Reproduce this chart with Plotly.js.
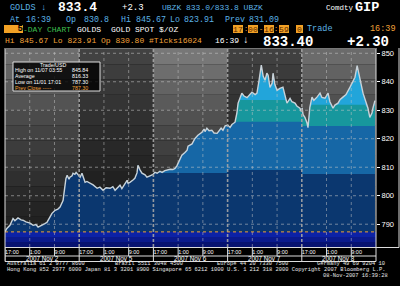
<!DOCTYPE html>
<html><head><meta charset="utf-8">
<script src="https://cdn.plot.ly/plotly-3.0.1.min.js"></script>
<style>html,body{margin:0;padding:0;background:#000;overflow:hidden}#chart{width:400px;height:286px}</style>
</head><body><div id="chart"></div>
<script>
// ---- data (hours since 11/01 17:00, trading sessions joined end to end) ----
const sessionHours = [
 0.0,0.6,1.6,2.6,3.2,4.2,5.2,5.8,6.8,8.1,9.1,10.0,10.7,12.0,12.9,13.6,14.6,15.2,16.2,17.1,17.8,18.4,18.8,19.1,19.4,19.7,20.1,20.7,21.0,21.7,22.0,22.6,23.0,23.6,
 24.3,24.9,25.5,25.9,26.5,27.5,28.5,29.8,30.7,31.7,32.7,34.0,34.9,35.6,36.5,37.2,37.8,38.8,39.5,39.8,40.4,41.4,42.0,42.7,43.0,43.7,44.3,45.3,45.9,46.9,47.5,47.9,
 48.5,49.2,50.1,50.8,51.7,52.4,53.4,54.3,55.0,55.6,56.0,56.6,57.2,58.2,58.9,59.2,59.8,60.5,60.8,61.4,62.4,63.1,63.7,64.4,64.7,65.3,66.0,66.9,67.6,68.6,69.2,69.9,70.5,71.2,71.8,
 72.1,72.8,73.4,74.4,75.0,75.4,76.0,76.6,77.3,78.3,79.2,79.9,80.9,81.5,82.1,82.9,83.5,84.1,84.7,85.1,85.7,86.4,86.7,87.3,88.0,88.9,89.9,90.6,91.2,92.2,92.8,93.8,94.4,95.4,95.9,
 96.1,96.4,97.0,97.7,98.0,98.3,98.6,99.3,99.9,100.9,101.9,102.5,103.5,104.5,105.1,106.1,106.7,107.7,108.4,109.3,110.3,111.6,112.3,113.2,113.9,114.5,114.8,115.4,115.8,116.4,117.4,118.0,118.7,119.0,119.65
];
const goldPrice = [
 787.3,788.5,789.6,792.0,791.2,792.2,791.5,791.4,790.8,790.4,789.6,789.9,789.0,789.6,790.2,790.7,792.5,793.8,794.9,795.3,796.0,797.5,798.4,801.0,804.4,806.0,807.2,805.8,806.5,807.0,807.9,807.5,808.2,807.2,
 806.5,807.9,806.0,804.7,805.0,804.4,803.8,802.6,803.0,801.9,802.8,802.6,803.2,801.9,803.0,803.7,802.5,804.4,805.4,804.4,804.7,805.5,806.1,808.0,810.7,809.0,807.9,807.3,806.5,807.0,807.2,807.5,
 808.2,807.9,808.6,808.2,808.8,809.0,809.3,809.2,809.6,810.5,811.4,813.0,814.2,815.2,816.0,817.4,817.7,818.2,818.8,820.0,821.2,821.8,822.3,823.4,822.5,823.7,822.8,823.0,822.0,821.9,822.8,823.7,823.0,824.5,824.7,
 824.7,824.0,825.0,825.8,829.0,832.5,834.6,836.0,835.0,834.4,835.5,836.3,835.5,836.0,840.0,845.84,842.0,840.5,843.0,842.3,838.0,839.5,843.0,839.0,837.0,837.7,838.1,835.0,832.5,834.2,833.0,832.5,831.5,830.7,829.5,
 830.8,828.5,827.5,825.5,823.91,826.5,831.0,834.6,833.5,834.6,836.0,834.5,834.2,836.0,833.0,830.7,831.8,832.5,833.8,834.6,835.5,838.1,839.5,841.6,845.67,842.0,840.5,838.0,836.0,834.0,830.7,827.5,829.0,830.7,833.4
];
const prevClose = 787.30;
const sessionDates = ["2007 Nov 2","2007 Nov 5","2007 Nov 6","2007 Nov 7","2007 Nov 8"];
const hourTickOffsets = [0, 8, 16];
const hourTickText = ["17:00","1:00","9:00"];
const priceTicks = [790,800,810,820,830,840,850];
// colour-band tops for each session (price levels)
const navyTop = [851, 851, 808.0, 809.0, 807.6];
const blueTop = [851, 851, 826.0, 826.0, 824.5];
const tealTop = [851, 851, 834.0, 833.6, 831.9];
const tooltipLabels = ["High on 11/07 03:55","Average","Low on 11/01 17:01","Prev Close -----"];
const tooltipValues = ["845.84","816.33","787.30","787.30"];

// ---- geometry helpers ----
const L=5,R=376,T=49,B=247;
const px = x => (x-L)/(R-L);
const py = y => (B-y)/(B-T);
const Y0=782, Y1=851.5, HOURS=120;
const MONO="Liberation Mono, DejaVu Sans Mono, monospace";
const SANS="Liberation Sans, Arial, sans-serif";
const CYAN='#5cb3e6', ORANGE='#f2a23a', GREEN='#3fbf4f', WHITE='#ffffff';

const sess = h => Math.min(4, Math.floor(h/24));
const clampTo = tops => goldPrice.map((v,i)=>Math.min(v, tops[sess(sessionHours[i])]));
const base = sessionHours.map(()=>prevClose);

const traces = [];
function band(y, color){
  traces.push({x:sessionHours,y:base,mode:'lines',line:{width:0},hoverinfo:'skip',showlegend:false});
  traces.push({x:sessionHours,y:y,mode:'lines',line:{width:0},fill:'tonexty',fillcolor:color,hoverinfo:'skip',showlegend:false});
}
band(goldPrice,'#22a5da');
band(clampTo(tealTop),'#17979d');
band(clampTo(blueTop),'#1667a6');
band(clampTo(navyTop),'#0b376f');
traces.push({x:sessionHours,y:goldPrice,mode:'lines',line:{color:'#c9d3da',width:1.4},showlegend:false});

// ---- shapes ----
const shapes = [];
const dayTop=[0x72,0x44,0x7c,0x42,0x70], dayBot=[0x20,0x1a,0x22,0x1a,0x20];
const STEPS=12;
for(let d=0; d<5; d++){
  for(let k=0;k<STEPS;k++){
    const t=(k+0.5)/STEPS;
    const s=Math.round(dayBot[d]+(dayTop[d]-dayBot[d])*Math.pow(t,1.4));
    const c=`rgb(${s},${s},${s})`;
    shapes.push({type:'rect',layer:'below',xref:'x',yref:'y',x0:d*24,x1:d*24+24,
      y0:prevClose+(Y1-prevClose)*k/STEPS, y1:prevClose+(Y1-prevClose)*(k+1)/STEPS,
      fillcolor:c,line:{width:0}});
  }
}
const blues=['#071270','#0a1a8c','#0c22a6'];
for(let k=0;k<3;k++){
  shapes.push({type:'rect',layer:'below',xref:'paper',yref:'y',x0:0,x1:1,
    y0:Y0+(prevClose-Y0)*k/3,y1:Y0+(prevClose-Y0)*(k+1)/3,fillcolor:blues[k],line:{width:0}});
}
// grid
priceTicks.forEach(v=>shapes.push({type:'line',layer:'above',xref:'paper',yref:'y',x0:0,x1:1,y0:v,y1:v,
  line:{color:'rgba(200,200,200,0.55)',width:1,dash:'dot'}}));
const xTickVals=[], xTickText=[];
for(let d=0;d<5;d++) hourTickOffsets.forEach((o,i)=>{xTickVals.push(d*24+o); xTickText.push(hourTickText[i]);});
xTickVals.forEach(h=>{
  if(h%24!==0) shapes.push({type:'line',layer:'above',xref:'x',yref:'paper',x0:h,x1:h,y0:0,y1:1,
    line:{color:'rgba(200,200,200,0.5)',width:1,dash:'dot'}});
  shapes.push({type:'line',layer:'above',xref:'x',yref:'paper',x0:h,x1:h,y0:py(248),y1:py(h%24===0?261.5:256),
    line:{color:'#dddddd',width:1}});
});
for(let d=1;d<5;d++) shapes.push({type:'line',layer:'above',xref:'x',yref:'paper',x0:d*24,x1:d*24,y0:0,y1:1,
  line:{color:'rgba(165,165,165,0.9)',width:1.6,dash:'3px,2px'}});
shapes.push({type:'line',layer:'above',xref:'paper',yref:'y',x0:0,x1:1,y0:prevClose,y1:prevClose,
  line:{color:ORANGE,width:1,dash:'dot'}});
const fr=(x0,y0,x1,y1,c)=>shapes.push({type:'line',layer:'above',xref:'paper',yref:'paper',
  x0:px(x0),x1:px(x1),y0:py(y0),y1:py(y1),line:{color:c||'#dddddd',width:1}});
fr(5,48,5,261.5); fr(376,48,376,261.5); fr(399,48,399,247.5);
fr(5,247.5,399,247.5); fr(5,256,376,256); fr(5,261.5,376,261.5);
fr(5,48.5,376,48.5,'#777777');
shapes.push({type:'rect',layer:'above',xref:'paper',yref:'paper',x0:px(13),x1:px(100),y0:py(91),y1:py(62),
  fillcolor:'rgba(0,0,0,0.82)',line:{color:'#dddddd',width:1}});

// ---- annotations ----
const annotations=[];
function ann(x,y,text,o){
  o=o||{};
  const a={xref:'paper',yref:'paper',x:px(x),y:py(y),text:text,showarrow:false,
    xanchor:o.anchor||'left',yanchor:'middle',borderpad:0,borderwidth:0,
    font:{family:o.family||MONO,size:o.size||9,color:o.color||WHITE}};
  if(o.bg){a.bgcolor=o.bg;}
  if(o.w){a.width=o.w;a.height=o.h||8;a.align=o.align||'center';}
  annotations.push(a);
}
// header line 1
ann(10,7.5,'GOLDS',{color:CYAN,size:8.5});
ann(41,7.5,'↓',{color:CYAN,size:9});
ann(58,7.2,'<b>833.4</b>',{size:13});
ann(122,7.5,'+2.3',{size:9});
ann(162,7.5,'UBZK 833.0/833.8 UBZK',{color:CYAN,size:8});
ann(326,7.5,'Comdty',{size:7.5});
ann(355,7.2,'<b>GIP</b>',{size:13.5});
// header line 2
[['At',10],['16:39',26],['Op',66],['830.8',84],['Hi',121],['845.67',136],['Lo',170],['823.91',184],['Prev',225],['831.09',249]]
  .forEach(p=>ann(p[1],19.8,p[0],{color:CYAN,size:8.3}));
// header line 3
ann(4,29.3,'<b>5</b>',{bg:'#f2a125',w:19,h:8,align:'right',size:9,color:'#000'});
ann(23,29.3,'-DAY CHART',{color:GREEN,size:8});
ann(77,29.3,'GOLDS',{size:8});
ann(111,29.3,'GOLD SPOT $/OZ',{size:8});
[['17',233],['00',248.5],['16',263.5],['59',278.5]].forEach(p=>ann(p[1],29.3,p[0],{bg:'#f2a125',w:10,h:8,size:8,color:'#5a2800'}));
ann(243.5,29.3,':',{color:ORANGE,size:7});
ann(259,29.3,'-',{color:ORANGE,size:7});
ann(274,29.3,':',{color:ORANGE,size:7});
ann(296,29.3,'0',{bg:'#f2a125',w:7,h:8,size:8,color:'#5a2800'});
ann(307,29.3,'Trade',{color:CYAN,size:8.5});
ann(370,29.3,'16:39',{color:ORANGE,size:8.5});
// header line 4
ann(5,41,'Hi 845.67 Lo 823.91 Op 830.80 #Ticks16024',{color:ORANGE,size:8});
ann(215,41,'16:39',{size:8});
ann(243,41,'↓',{size:10});
ann(263,41.5,'<b>833.40</b>',{size:14});
ann(347,41.5,'<b>+2.30</b>',{size:14});
// tooltip
ann(52.5,64.7,'Trade/USD',{family:SANS,size:5.3,anchor:'center'});
tooltipLabels.forEach((t,i)=>{
  const y=70.4+i*5.85, c=i===3?ORANGE:WHITE;
  ann(15,y,t,{family:SANS,size:5.3,color:c});
  ann(88,y,tooltipValues[i],{family:SANS,size:5.3,color:c,anchor:'right'});
});
// session dates
sessionDates.forEach((t,d)=>annotations.push({xref:'x',yref:'paper',x:d*24+12,y:py(258.8),text:t,showarrow:false,
  xanchor:'center',yanchor:'middle',font:{family:SANS,size:6.3,color:WHITE}}));
// footer
const FG='#e8e8e8';
ann(7,264,'Australia 61 2 9777 8600',{size:5.4,color:FG});
ann(115,264,'Brazil 5511 3048 4500',{size:5.4,color:FG});
ann(217,264,'Europe 44 20 7330 7500',{size:5.4,color:FG});
ann(317,264,'Germany 49 69 9204 10',{size:5.4,color:FG});
ann(7,270.2,'Hong Kong 852 2977 6000 Japan 81 3 3201 8900 Singapore 65 6212 1000 U.S. 1 212 318 2000 Copyright 2007 Bloomberg L.P.',{size:5.4,color:FG});
ann(388,275.8,'08-Nov-2007 16:39:28',{size:5.4,color:FG,anchor:'right'});

const layout={
  width:400,height:286,margin:{l:L,r:400-R,t:T,b:286-B,pad:0},
  paper_bgcolor:'#000',plot_bgcolor:'#000',showlegend:false,
  xaxis:{range:[0,HOURS],showgrid:false,zeroline:false,showline:false,
    tickmode:'array',tickvals:xTickVals,ticktext:xTickText,ticks:'',
    ticklabelposition:'outside right',tickfont:{family:SANS,size:5.5,color:WHITE}},
  yaxis:{range:[Y0,Y1],side:'right',showgrid:false,zeroline:false,showline:false,
    tickmode:'array',tickvals:priceTicks,ticks:'outside',ticklen:3,tickcolor:'#ffffff',tickwidth:1,
    tickfont:{family:SANS,size:7.5,color:WHITE}},
  shapes:shapes,annotations:annotations
};
Plotly.newPlot('chart',traces,layout,{staticPlot:true,displayModeBar:false});
</script></body></html>
